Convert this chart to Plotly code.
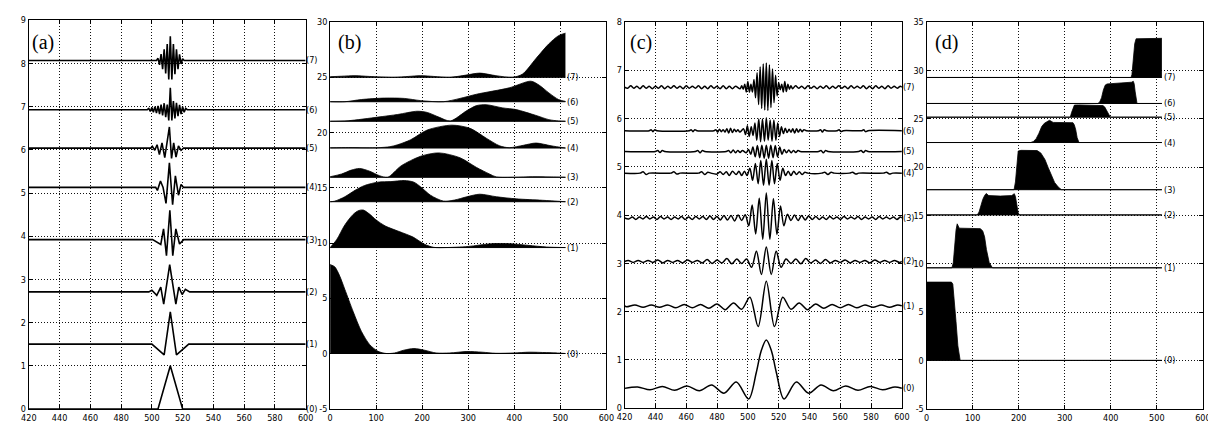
import plotly.graph_objects as go

# ---------------- data ----------------
CURVE_LABELS = ["(0)", "(1)", "(2)", "(3)", "(4)", "(5)", "(6)", "(7)"]
PANEL_LABELS = ["(a)", "(b)", "(c)", "(d)"]

A_XTICKS = [420, 440, 460, 480, 500, 520, 540, 560, 580, 600]
A_YTICKS = [0, 1, 2, 3, 4, 5, 6, 7, 8, 9]
B_XTICKS = [0, 100, 200, 300, 400, 500, 600]
B_YTICKS = [-5, 0, 5, 10, 15, 20, 25, 30]
C_XTICKS = [420, 440, 460, 480, 500, 520, 540, 560, 580, 600]
C_YTICKS = [0, 1, 2, 3, 4, 5, 6, 7, 8]
D_XTICKS = [0, 100, 200, 300, 400, 500, 600]
D_YTICKS = [-5, 0, 5, 10, 15, 20, 25, 30, 35]

# panel (a): time-domain packets (offset + deviation)
A_BASE = [0.0, 1.50, 2.71, 3.92, 5.13, 6.04, 6.93, 8.07]
A0_X = [420, 504, 512, 520, 600]
A0_D = [0, 0, 1.0, 0, 0]
A1_X = [420, 500, 508, 512, 516, 524, 600]
A1_D = [0, 0, -0.25, 0.75, -0.25, 0, 0]
A2_X = [420, 498, 500, 503.2, 505.8, 507.7, 511.6, 515.6, 517.5, 519.7, 521.8, 524.6, 600]
A2_D = [0, 0, 0.04, -0.08, 0.11, -0.28, 0.63, -0.28, 0.11, -0.06, 0.06, 0, 0]
A3_X = [420, 500.5, 505.8, 507.6, 509.5, 511.7, 513.6, 515.6, 518.0, 520.7, 600]
A3_D = [0, 0, -0.11, 0.25, -0.37, 0.68, -0.37, 0.25, -0.10, 0, 0]
A4_X = [420, 502.5, 503.6, 505.6, 507.3, 509.2, 511.4, 513.5, 515.3, 517.3, 519.0, 520.6, 600]
A4_D = [0, 0, -0.07, 0.15, 0.0, -0.37, 0.57, -0.40, 0.27, -0.18, 0.07, 0, 0]
A5_X = [420, 499.3, 500.3, 501.9, 503.4, 504.9, 506.6, 508.4, 511.4, 512.8, 514.2, 515.7, 517.3, 519.0, 520.6, 600]
A5_D = [0, 0, 0.04, -0.05, 0.08, -0.15, 0.12, -0.22, 0.49, -0.24, 0.12, -0.21, 0.05, -0.05, 0, 0]
A6_X = [420, 497, 498, 499, 500, 501, 502, 503, 504, 505, 506, 507, 508, 509, 510, 511, 512,
        513, 514, 515, 516, 517, 518, 519, 520, 521, 522, 523, 600]
A6_D = [0, 0, 0.03, -0.04, 0.05, -0.06, 0.07, -0.08, 0.09, -0.10, 0.12, -0.13, 0.15, -0.17, 0.12, -0.25, 0.51,
        -0.25, 0.20, -0.20, 0.16, -0.15, 0.11, -0.10, 0.07, -0.06, 0.03, 0, 0]
A7_X = [420, 503, 504, 505, 506, 507, 508, 509, 510, 511, 512, 513, 514, 515, 516, 517, 518, 519, 520, 521, 600]
A7_D = [0, 0, 0.05, -0.10, 0.15, -0.20, 0.26, -0.30, 0.38, -0.44, 0.56, -0.44, 0.38, -0.32, 0.26, -0.20, 0.14, -0.08, 0.04, 0, 0]

# panel (b): spectra of (a) packets (offset + height)
B_BASE = [0.0, 9.59, 13.74, 15.95, 18.60, 21.02, 22.79, 25.00]
B0_X = [0, 10, 20, 32, 50, 68, 86, 104, 122, 140, 160, 182, 205, 230, 260, 297, 330, 360, 400, 432, 470, 500, 511]
B0_H = [8.05, 7.85, 7.1, 5.8, 3.8, 2.0, 0.8, 0.2, 0.0, 0.05, 0.3, 0.45, 0.3, 0.05, 0.05, 0.18, 0.12, 0.02, 0.05, 0.12, 0.08, 0.03, 0.0]
B1_X = [0, 14, 32, 50, 62, 72, 85, 100, 120, 150, 180, 205, 225, 250, 300, 350, 390, 430, 470, 511]
B1_H = [0, 0.7, 2.05, 3.0, 3.35, 3.4, 3.05, 2.5, 1.95, 1.45, 0.95, 0.3, 0.02, 0.0, 0.1, 0.35, 0.35, 0.2, 0.05, 0.0]
B2_X = [0, 10, 32, 54, 75, 104, 132, 161, 182, 197, 218, 246, 270, 297, 325, 361, 404, 461, 511]
B2_H = [0, 0.05, 0.45, 1.03, 1.47, 1.77, 1.82, 1.92, 1.77, 1.33, 0.59, 0.06, 0.15, 0.45, 0.68, 0.45, 0.26, 0.13, 0.0]
B3_X = [0, 25, 46, 64, 86, 107, 125, 154, 197, 236, 282, 318, 346, 361, 400, 440, 480, 511]
B3_H = [0.05, 0.3, 0.65, 0.8, 0.55, 0.15, 0.0, 1.03, 1.91, 2.21, 1.77, 0.89, 0.3, 0.03, 0.0, 0.05, 0.03, 0.0]
B4_X = [0, 40, 80, 104, 130, 147, 175, 211, 264, 304, 339, 368, 389, 420, 447, 480, 511]
B4_H = [0.02, 0.04, 0.02, 0.03, 0.12, 0.3, 0.75, 1.63, 2.07, 1.78, 0.89, 0.2, 0.03, 0.25, 0.45, 0.2, 0.0]
B5_X = [0, 39, 104, 147, 189, 211, 236, 261, 297, 318, 339, 375, 404, 447, 475, 496, 511]
B5_H = [0, 0.05, 0.38, 0.62, 0.91, 0.8, 0.38, 0.03, 0.97, 1.42, 1.5, 1.21, 1.06, 0.53, 0.15, 0.03, 0.0]
B6_X = [0, 32, 68, 118, 161, 197, 246, 282, 318, 389, 436, 454, 475, 496, 511]
B6_H = [0, 0.0, 0.2, 0.33, 0.3, 0.1, 0.0, 0.3, 0.68, 1.26, 1.86, 1.5, 0.8, 0.2, 0.03]
B7_X = [0, 25, 54, 85, 139, 170, 197, 225, 260, 295, 325, 360, 396, 418, 447, 475, 496, 511]
B7_H = [0.05, 0.1, 0.15, 0.08, 0.0, 0.08, 0.15, 0.08, 0.0, 0.2, 0.38, 0.15, 0.0, 0.3, 1.7, 3.03, 3.77, 4.0]

# panel (c): time-domain packets (offset + deviation)
C_BASE = [0.41, 2.12, 3.04, 3.94, 4.87, 5.32, 5.75, 6.65]
C0_X = [420, 428.5, 436.5, 444.5, 452.5, 460.5, 468.5, 476.5, 484.5, 492.5, 500.5, 505.5, 508.7, 512, 515.3, 518.5,
        523.5, 531.5, 539.5, 547.5, 555.5, 563.5, 571.5, 579.5, 587.5, 595.5, 600]
C0_D = [0.0, 0.03, -0.03, 0.04, -0.04, 0.05, -0.05, 0.07, -0.10, 0.13, -0.22, 0.33, 0.78, 1.0, 0.78, 0.33,
        -0.22, 0.13, -0.10, 0.07, -0.05, 0.05, -0.04, 0.04, -0.03, 0.03, 0.0]
C1_X = [420, 421.3, 426.7, 432, 437.3, 442.7, 448, 453.3, 458.7, 464, 469.3, 474.7, 480, 485.3, 490.7, 496, 501.3,
        506.7, 512, 517.3, 522.7, 528, 533.3, 538.7, 544, 549.3, 554.7, 560, 565.3, 570.7, 576, 581.3, 586.7, 592,
        597.3, 600]
C1_D = [0, -0.02, 0.02, -0.03, 0.02, -0.03, 0.02, -0.04, 0.03, -0.04, 0.03, -0.05, 0.04, -0.08, 0.06, -0.07, 0.18,
        -0.43, 0.51, -0.43, 0.18, -0.07, 0.06, -0.08, 0.04, -0.05, 0.03, -0.04, 0.03, -0.04, 0.02, -0.03, 0.02, -0.03,
        0.02, 0]
C2_X = [420, 422.4, 425.6, 428.8, 432.0, 435.2, 438.4, 441.6, 444.8, 448.0, 451.2, 454.4, 457.6, 460.8, 464.0,
        467.2, 470.4, 473.6, 476.8, 480.0, 483.2, 486.4, 489.6, 492.8, 496.0, 499.2, 502.4, 505.6, 508.8, 512.0,
        515.2, 518.4, 521.6, 524.8, 528.0, 531.2, 534.4, 537.6, 540.8, 544.0, 547.2, 550.4, 553.6, 556.8, 560.0,
        563.2, 566.4, 569.6, 572.8, 576.0, 579.2, 582.4, 585.6, 588.8, 592.0, 595.2, 598.4, 600]
C2_D = [0, 0.02, -0.02, 0.02, -0.02, 0.02, -0.02, 0.03, -0.03, 0.02, -0.02, 0.02, -0.03, 0.03, -0.02,
        0.02, -0.03, 0.04, -0.04, 0.03, -0.03, 0.06, -0.05, 0.05, -0.04, 0.05, -0.12, 0.21, -0.27, 0.30,
        -0.27, 0.21, -0.12, 0.05, -0.04, 0.05, -0.05, 0.06, -0.03, 0.03, -0.04, 0.04, -0.03, 0.02, -0.02,
        0.03, -0.03, 0.02, -0.02, 0.02, -0.03, 0.03, -0.02, 0.02, -0.02, 0.02, -0.02, 0]
C3_X = [420, 422.7, 425.0, 427.3, 429.6, 431.9, 434.1, 436.4, 438.7, 441.0, 443.3, 445.6, 447.9, 450.2, 452.5,
        454.8, 457.0, 459.3, 461.6, 463.9, 466.2, 468.5, 470.8, 473.1, 475.4, 477.7, 479.9, 482.2, 484.5, 486.8,
        489.1, 491.4, 493.7, 496.0, 498.3, 500.6, 502.8, 505.1, 507.4, 509.7, 512.0,
        514.3, 516.6, 518.9, 521.2, 523.4, 525.7, 528.0, 530.3, 532.6, 534.9, 537.2, 539.5, 541.8, 544.1, 546.4,
        548.6, 550.9, 553.2, 555.5, 557.8, 560.1, 562.4, 564.7, 567.0, 569.3, 571.5, 573.8, 576.1, 578.4, 580.7,
        583.0, 585.3, 587.6, 589.9, 592.2, 594.5, 596.8, 599.0, 600]
C3_D = [0, -0.02, 0.02, -0.03, 0.02, -0.02, 0.03, -0.02, 0.02, -0.03, 0.03, -0.02, 0.02, -0.03, 0.02,
        -0.02, 0.03, -0.03, 0.02, -0.03, 0.03, -0.02, 0.03, -0.03, 0.04, -0.03, 0.03, -0.04, 0.05, -0.04,
        0.05, -0.06, 0.06, -0.05, 0.07, -0.16, 0.27, -0.33, 0.41, -0.44, 0.52,
        -0.44, 0.40, -0.34, 0.25, -0.16, 0.08, -0.05, 0.06, -0.05, 0.05, -0.04, 0.04, -0.03, 0.03, -0.03,
        0.02, -0.03, 0.03, -0.02, 0.02, -0.03, 0.03, -0.02, 0.02, -0.02, 0.03, -0.03, 0.02, -0.02, 0.02,
        -0.03, 0.03, -0.02, 0.02, -0.02, 0.02, -0.03, 0.02, 0]
C4_X = [420, 430, 432, 434, 436, 450, 452, 454, 456, 468, 470, 472, 474, 476, 480, 482, 484, 486, 488, 490,
        492.4, 494.2, 496.0, 497.8, 499.5, 501.3, 503.1, 504.9, 506.7, 508.4, 510.2, 512, 513.8, 515.6, 517.3,
        519.1, 520.9, 522.7, 524.5, 526.2, 528.0, 529.8, 531.6,
        533.4, 535.2, 537, 539, 548, 550, 552, 554, 556, 566, 568, 570, 572, 588, 590, 592, 594, 600]
C4_D = [0, 0, 0.03, -0.03, 0, 0, 0.03, -0.02, 0, 0, 0.03, -0.03, 0.02, 0, -0.02, 0.03, -0.03, 0.03, -0.05, 0.04,
        -0.03, 0.04, -0.05, 0.04, -0.05, 0.10, -0.15, 0.20, -0.22, 0.26, -0.25, 0.29, -0.25, 0.26, -0.22,
        0.20, -0.15, 0.10, -0.05, 0.04, -0.05, 0.04, -0.03,
        0.03, -0.03, 0.02, 0, 0, 0.02, -0.03, 0.02, 0, 0, 0.02, -0.02, 0, 0, 0.02, -0.02, 0, 0]
C5_X = [420, 440, 441.5, 443, 444.5, 446, 466, 467.5, 469, 470.5, 472, 486, 487.5, 489, 490.5, 492, 493.5, 495, 496.5,
        498.9, 500.4, 501.9, 503.3, 504.8, 506.2, 507.7, 509.1, 510.6, 512, 513.5, 514.9, 516.4, 517.8, 519.3,
        520.7, 522.2, 523.6, 525.1,
        526.6, 528.1, 529.6, 531.1, 532.6, 534, 546, 547.5, 549, 550.5, 552, 572, 573.5, 575, 576.5, 578, 600]
C5_D = [0, 0, 0.02, -0.02, 0.02, 0, 0, 0.02, -0.03, 0.02, 0, 0, 0.02, -0.03, 0.03, -0.03, 0.02, -0.02, 0.02,
        -0.03, 0.04, -0.06, 0.09, -0.11, 0.12, -0.13, 0.13, -0.14, 0.13, -0.14, 0.13, -0.13, 0.12, -0.11,
        0.09, -0.06, 0.04, -0.03,
        0.03, -0.03, 0.02, -0.02, 0.02, 0, 0, 0.02, -0.03, 0.02, 0, 0, 0.02, -0.02, 0.02, 0, 0]
C6_X = [420, 436, 437.2, 438.4, 439.6, 441, 462, 463.2, 464.4, 465.6, 467, 478, 479.2, 480.4, 481.6, 482.8, 484,
        485.2, 486.4, 487.6, 488.8, 490, 491.2, 492.4, 493.6, 494.8,
        497.2, 498.5, 499.7, 500.9, 502.2, 503.4, 504.6, 505.8, 507.1, 508.3, 509.5, 510.8, 512, 513.2, 514.5,
        515.7, 516.9, 518.2, 519.4, 520.6, 521.8, 523.1, 524.3, 525.5, 526.8,
        528, 529.2, 530.4, 531.6, 532.8, 534, 535.2, 536.4, 538, 546, 547.2, 548.4, 549.6, 551, 558, 559.2, 560.4,
        562, 574, 575.2, 576.4, 578, 600]
C6_D = [0, 0, 0.02, -0.02, 0.02, 0, 0, 0.02, -0.02, 0.02, 0, 0, 0.02, -0.03, 0.03, -0.02, 0.02,
        -0.03, 0.04, -0.05, 0.05, -0.04, 0.03, -0.02, 0.02, -0.03,
        0.04, -0.08, 0.10, -0.12, 0.08, -0.10, 0.16, -0.20, 0.24, -0.23, 0.24, -0.22, 0.27, -0.20, 0.22,
        -0.22, 0.22, -0.20, 0.16, -0.12, 0.08, -0.06, 0.05, -0.04, 0.03,
        -0.03, 0.04, -0.05, 0.04, -0.03, 0.03, -0.02, 0.02, 0, 0, 0.02, -0.03, 0.02, 0, 0, 0.02, -0.02,
        0, 0, 0.02, -0.02, 0, 0]
C7_X = [420, 422, 424, 426, 428, 430, 432, 434, 436, 438, 440, 442, 444, 446, 448, 450, 452, 454, 456, 458,
        460, 462, 464, 466, 468, 470, 472, 474, 476, 478, 480, 482, 484, 486, 488, 490, 492,
        495, 496, 497, 498, 499, 500, 501, 502, 503, 504, 505, 506, 507, 508, 509, 510, 511, 512, 513, 514,
        515, 516, 517, 518, 519, 520, 521, 522, 523, 524, 525, 526, 527, 528, 529,
        531, 533, 535, 537, 539, 541, 543, 545, 547, 549, 551, 553, 555, 557, 559, 561, 563, 565, 567, 569,
        571, 573, 575, 577, 579, 581, 583, 585, 587, 589, 591, 593, 595, 597, 599, 600]
C7_D = [0.00, -0.02, 0.03, -0.02, 0.02, -0.03, 0.03, -0.02, 0.02, -0.03, 0.02, -0.02, 0.03, -0.03, 0.02,
        -0.02, 0.03, -0.02, 0.02, -0.03, 0.03, -0.02, 0.02, -0.02, 0.03, -0.03, 0.02, -0.03, 0.03, -0.02,
        0.02, -0.03, 0.03, -0.03, 0.02, -0.03, 0.02,
        -0.03, 0.03, -0.04, 0.06, -0.10, 0.12, -0.10, 0.06, -0.10, 0.16, -0.22, 0.30, -0.36, 0.42, -0.44,
        0.48, -0.47, 0.50, -0.48, 0.46, -0.42, 0.38, -0.32, 0.25, -0.18, 0.10, -0.05, 0.06, -0.10, 0.12,
        -0.09, 0.06, -0.04, 0.03, -0.03,
        0.03, -0.02, 0.02, -0.03, 0.03, -0.02, 0.02, -0.03, 0.02, -0.02, 0.03, -0.03, 0.02, -0.02, 0.03,
        -0.02, 0.02, -0.03, 0.03, -0.02, 0.02, -0.02, 0.03, -0.03, 0.02, -0.03, 0.03, -0.02, 0.02, -0.03,
        0.03, -0.02, 0.02, -0.02, 0.02, 0]

# panel (d): spectra of (c) packets (offset + height)
D_BASE = [0.0, 9.58, 15.05, 17.66, 22.54, 25.16, 26.58, 29.27]
D0_X = [0, 54, 57, 60, 64, 68, 71, 73, 511]
D0_H = [8.1, 8.1, 7.9, 6.5, 4.0, 1.5, 0.3, 0.0, 0.0]
D1_X = [0, 55, 58, 61, 64, 66.5, 71, 117, 122, 126, 130, 136, 143, 511]
D1_H = [0, 0, 0.5, 2.3, 3.9, 4.55, 4.1, 4.05, 3.8, 3.2, 1.9, 0.55, 0.0, 0]
D2_X = [0, 110, 114, 118, 122, 126, 129.5, 135, 160, 185, 190.5, 193, 196, 199, 202, 511]
D2_H = [0, 0, 0.3, 1.0, 1.6, 2.0, 2.22, 2.0, 1.95, 2.0, 2.2, 1.9, 1.0, 0.2, 0, 0]
D3_X = [0, 190, 193, 196, 199, 205, 240, 248, 257, 264, 271, 278, 286, 293, 511]
D3_H = [0, 0, 0.8, 2.8, 4.0, 4.07, 4.05, 3.8, 3.13, 2.3, 1.44, 0.75, 0.27, 0, 0]
D4_X = [0, 226, 232, 238, 244, 250, 256, 262, 267, 275, 300, 318, 321, 324, 327, 331, 511]
D4_H = [0, 0, 0.1, 0.4, 0.95, 1.65, 2.0, 2.2, 2.3, 2.08, 2.05, 2.05, 1.8, 1.3, 0.5, 0, 0]
D5_X = [0, 312, 315, 318, 321, 330, 360, 383, 387, 391, 395, 399, 511]
D5_H = [0, 0, 0.5, 1.0, 1.25, 1.27, 1.22, 1.2, 1.05, 0.7, 0.3, 0, 0]
D6_X = [0, 372, 376, 380, 384, 388, 392, 420, 445, 449, 451, 453, 455, 457, 511]
D6_H = [0, 0, 0.15, 0.6, 1.4, 1.9, 2.02, 2.08, 2.2, 2.29, 2.0, 1.2, 0.4, 0, 0]
D7_X = [0, 444, 446, 448, 450, 452, 455, 480, 511]
D7_H = [0, 0, 0.3, 1.2, 2.5, 3.5, 4.0, 4.05, 4.05]

SPEC_END = 511  # last frequency bin of the spectra

A_X = [A0_X, A1_X, A2_X, A3_X, A4_X, A5_X, A6_X, A7_X]
A_D = [A0_D, A1_D, A2_D, A3_D, A4_D, A5_D, A6_D, A7_D]
B_X = [B0_X, B1_X, B2_X, B3_X, B4_X, B5_X, B6_X, B7_X]
B_H = [B0_H, B1_H, B2_H, B3_H, B4_H, B5_H, B6_H, B7_H]
C_X = [C0_X, C1_X, C2_X, C3_X, C4_X, C5_X, C6_X, C7_X]
C_D = [C0_D, C1_D, C2_D, C3_D, C4_D, C5_D, C6_D, C7_D]
D_X = [D0_X, D1_X, D2_X, D3_X, D4_X, D5_X, D6_X, D7_X]
D_H = [D0_H, D1_H, D2_H, D3_H, D4_H, D5_H, D6_H, D7_H]

# ---------------- figure ----------------
W, H = 1216, 424
TICK_FONT = "Liberation Sans Narrow, DejaVu Sans Condensed, Liberation Sans, Arial Narrow, sans-serif"
SERIF = "Liberation Serif, Times New Roman, serif"

fig = go.Figure()


def pairs(xs, vs, base):
    n = min(len(xs), len(vs))
    return list(xs[:n]), [base + v for v in vs[:n]]


def add_wave(xs, vs, base, xa, ya, shape, width):
    x, y = pairs(xs, vs, base)
    fig.add_trace(go.Scatter(x=x, y=y, mode="lines", xaxis=xa, yaxis=ya, hoverinfo="skip",
                             line=dict(color="black", width=width, shape=shape, smoothing=0.9)))


def add_filled(xs, hs, base, xa, ya, shape):
    # baseline from first to last bin, then the filled magnitude curve
    fig.add_trace(go.Scatter(x=[xs[0], SPEC_END], y=[base, base], mode="lines", xaxis=xa, yaxis=ya,
                             hoverinfo="skip", line=dict(color="black", width=1.0)))
    x, y = pairs(xs, hs, base)
    fig.add_trace(go.Scatter(x=x, y=y, mode="lines", xaxis=xa, yaxis=ya, hoverinfo="skip",
                             fill="tonexty", fillcolor="black",
                             line=dict(color="black", width=0.8, shape=shape, smoothing=0.8)))


for i in range(8):
    add_wave(A_X[i], A_D[i], A_BASE[i], "x", "y", "linear", 1.6)
    add_filled(B_X[i], B_H[i], B_BASE[i], "x2", "y2", "spline")
    add_wave(C_X[i], C_D[i], C_BASE[i], "x3", "y3", "spline", 1.5)
    add_filled(D_X[i], D_H[i], D_BASE[i], "x4", "y4", "linear")


def axis(domain, rng, tickvals):
    return dict(domain=domain, range=rng, tickvals=tickvals, ticktext=[str(t) for t in tickvals],
                showline=True, linecolor="black", linewidth=1, mirror="ticks",
                ticks="inside", ticklen=4, tickwidth=1, tickcolor="black",
                showgrid=True, gridcolor="#111111", gridwidth=1, griddash="1px,2px",
                zeroline=False, fixedrange=True,
                tickfont=dict(family=TICK_FONT, size=9, color="black"))


fig.update_layout(
    width=W, height=H, margin=dict(l=0, r=0, t=0, b=0), autosize=False,
    paper_bgcolor="white", plot_bgcolor="white", showlegend=False,
    xaxis=axis([13 / W, 293.5 / W], [420, 600], A_XTICKS),
    yaxis=axis([1 - 405.5 / H, 1 - 7.5 / H], [0, 9], A_YTICKS),
    xaxis2=axis([318.3 / W, 598.3 / W], [0, 600], B_XTICKS),
    yaxis2=axis([1 - 405.3 / H, 1 - 9.3 / H], [-5, 30], B_YTICKS),
    xaxis3=axis([616.7 / W, 897.7 / W], [420, 600], C_XTICKS),
    yaxis3=axis([1 - 404.7 / H, 1 - 9.3 / H], [0, 8], C_YTICKS),
    xaxis4=axis([922.7 / W, 1202.7 / W], [0, 600], D_XTICKS),
    yaxis4=axis([1 - 405.3 / H, 1 - 9.3 / H], [-5, 35], D_YTICKS),
)
for k in ["xaxis2", "xaxis3", "xaxis4"]:
    fig.layout[k].anchor = "y" + k[-1]
for k in ["yaxis2", "yaxis3", "yaxis4"]:
    fig.layout[k].anchor = "x" + k[-1]

ann = []
for i in range(8):
    lab = CURVE_LABELS[i]
    ann.append(dict(x=600, y=A_BASE[i], xref="x", yref="y", text=lab, showarrow=False,
                    xanchor="left", yanchor="middle", xshift=-2,
                    font=dict(family=TICK_FONT, size=9, color="black")))
    ann.append(dict(x=SPEC_END, y=B_BASE[i], xref="x2", yref="y2", text=lab, showarrow=False,
                    xanchor="left", yanchor="middle", xshift=0,
                    font=dict(family=TICK_FONT, size=9, color="black")))
    ann.append(dict(x=600, y=C_BASE[i], xref="x3", yref="y3", text=lab, showarrow=False,
                    xanchor="left", yanchor="middle", xshift=-1,
                    font=dict(family=TICK_FONT, size=9, color="black")))
    ann.append(dict(x=SPEC_END, y=D_BASE[i], xref="x4", yref="y4", text=lab, showarrow=False,
                    xanchor="left", yanchor="middle", xshift=0,
                    font=dict(family=TICK_FONT, size=9, color="black")))

panel_px = [14, 324, 620, 929]
for p, lab in zip(panel_px, PANEL_LABELS):
    ann.append(dict(x=p / W, y=1 - 30.5 / H, xref="paper", yref="paper", text=lab, showarrow=False,
                    xanchor="left", yanchor="middle", font=dict(family=SERIF, size=20, color="black")))
fig.update_layout(annotations=ann)

fig.write_html("out.html")
